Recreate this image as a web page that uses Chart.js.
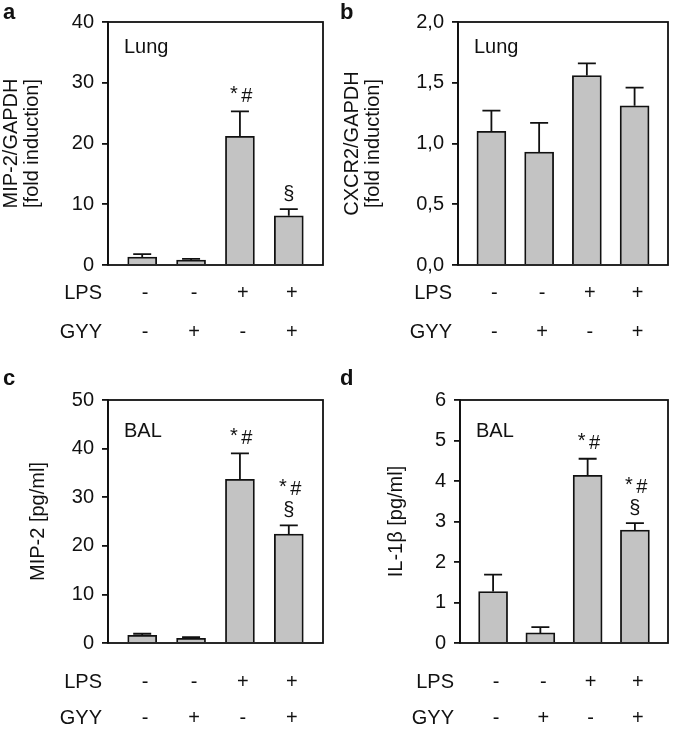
<!DOCTYPE html>
<html>
<head>
<meta charset="utf-8">
<script src="https://cdn.jsdelivr.net/npm/chart.js@4"></script>
<style>
body { margin: 0; background: #fff; width: 675px; height: 732px; position: relative; overflow: hidden; }
.panel { position: absolute; }
</style>
</head>
<body>
<div class="panel" style="left:0;top:0"><canvas id="chartA" width="337" height="366"></canvas></div>
<div class="panel" style="left:337px;top:0"><canvas id="chartB" width="338" height="366"></canvas></div>
<div class="panel" style="left:0;top:366px"><canvas id="chartC" width="337" height="366"></canvas></div>
<div class="panel" style="left:337px;top:366px"><canvas id="chartD" width="338" height="366"></canvas></div>
<script>
const groups = [1, 2, 3, 4];
const lpsRow = ["-", "-", "+", "+"];
const gyyRow = ["-", "+", "-", "+"];

// a: MIP-2 mRNA, lung
const mipLung = [1.3, 0.8, 21.2, 8.1];
const mipLungSd = [0.5, 0.2, 4.1, 1.1];
const mipLungMarks = [[], [], ["*#"], ["§"]];

// b: CXCR2 mRNA, lung
const cxcrLung = [1.10, 0.93, 1.56, 1.31];
const cxcrLungSd = [0.17, 0.24, 0.10, 0.15];
const cxcrLungMarks = [[], [], [], []];

// c: MIP-2 protein, BAL
const mipBal = [1.6, 0.96, 33.7, 22.4];
const mipBalSd = [0.3, 0.25, 5.3, 1.8];
const mipBalMarks = [[], [], ["*#"], ["§", "*#"]];

// d: IL-1b protein, BAL
const ilBal = [1.27, 0.25, 4.14, 2.79];
const ilBalSd = [0.42, 0.14, 0.41, 0.17];
const ilBalMarks = [[], [], ["*#"], ["§", "*#"]];

const FONT = '"Liberation Sans", Arial, sans-serif';
const INK = '#111';
const FS = 20;
const LW = 1.8;

const decor = {
	id: 'decor',
	afterDatasetsDraw(chart) {
		const p = chart.options.plugins.decor;
		const ctx = chart.ctx;
		const area = chart.chartArea;
		const xs = chart.scales.x, ys = chart.scales.y;
		ctx.save();
		ctx.strokeStyle = INK;
		ctx.fillStyle = INK;
		ctx.lineWidth = LW;

		// error bars + significance marks
		groups.forEach((g, i) => {
			const x = xs.getPixelForValue(g);
			const yBar = ys.getPixelForValue(p.values[i]);
			const yTop = ys.getPixelForValue(p.values[i] + p.sd[i]);
			ctx.beginPath();
			ctx.moveTo(x, yBar);
			ctx.lineTo(x, yTop);
			ctx.moveTo(x - 9, yTop);
			ctx.lineTo(x + 9, yTop);
			ctx.stroke();
			ctx.textAlign = 'center';
			ctx.textBaseline = 'middle';
			p.marks[i].forEach((m, j) => {
				const y = yTop - 15 - j * 21;
				ctx.font = `${FS}px ${FONT}`;
				if (m === "*#") {
					ctx.fillText("*", x - 6, y - 2);
					ctx.fillText("#", x + 7, y);
				} else {
					ctx.fillText(m, x, y);
				}
			});
		});

		// frame
		ctx.strokeRect(area.left, area.top, area.right - area.left, area.bottom - area.top);

		// inside label
		ctx.font = `${FS}px ${FONT}`;
		ctx.textAlign = 'left';
		ctx.textBaseline = 'top';
		ctx.fillText(p.label, area.left + 16, area.top + p.labelDy);

		// treatment rows
		ctx.textBaseline = 'middle';
		[["LPS", lpsRow], ["GYY", gyyRow]].forEach(([name, row], r) => {
			const y = area.bottom + p.rowDy[r];
			ctx.textAlign = 'right';
			ctx.fillText(name, area.left - 6, y);
			ctx.textAlign = 'center';
			row.forEach((s, i) => ctx.fillText(s, xs.getPixelForValue(groups[i]) + 3, y));
		});

		// y title (rotated)
		ctx.textAlign = 'center';
		ctx.textBaseline = 'middle';
		const midY = (area.top + area.bottom) / 2;
		p.title.forEach((t, k) => {
			ctx.save();
			ctx.translate(p.titleX[k], midY);
			ctx.rotate(-Math.PI / 2);
			ctx.fillText(t, 0, 0);
			ctx.restore();
		});

		// panel letter
		ctx.font = `bold 22px ${FONT}`;
		ctx.textAlign = 'left';
		ctx.textBaseline = 'top';
		ctx.fillText(p.letter, 3, 2);
		ctx.restore();
	}
};

function makePanel(id, cfg) {
	const canvas = document.getElementById(id);
	const W = canvas.width, H = canvas.height;
	return new Chart(canvas, {
		type: 'bar',
		data: {
			datasets: [{
				data: groups.map((g, i) => ({x: g, y: cfg.values[i]})),
				backgroundColor: '#c3c3c3',
				borderColor: INK,
				borderWidth: LW,
				barThickness: 29
			}]
		},
		options: {
			responsive: false,
			animation: false,
			layout: {padding: {left: 0, top: cfg.area[2], right: W - cfg.area[1], bottom: H - cfg.area[3]}},
			plugins: {
				legend: {display: false},
				tooltip: {enabled: false},
				decor: cfg
			},
			scales: {
				x: {type: 'linear', min: 0.3, max: 4.7, offset: false, display: false},
				y: {
					min: 0,
					max: cfg.yMax,
					ticks: {
						stepSize: cfg.step,
						color: INK,
						padding: 8,
						font: {family: FONT, size: FS},
						callback: v => cfg.comma ? v.toFixed(1).replace('.', ',') : v
					},
					grid: {drawOnChartArea: false, tickLength: 6, color: INK, lineWidth: LW},
					border: {color: INK, width: LW},
					afterFit: s => { s.width = cfg.area[0]; }
				}
			}
		},
		plugins: [decor]
	});
}

// area: [left, right, top, bottom] in canvas pixels
makePanel('chartA', {
	letter: 'a', label: 'Lung', labelDy: 15, values: mipLung, sd: mipLungSd, marks: mipLungMarks,
	yMax: 40, step: 10, area: [108, 323, 22, 265], rowDy: [28, 67],
	title: ['MIP-2/GAPDH', '[fold induction]'], titleX: [11, 32]
});
makePanel('chartB', {
	letter: 'b', label: 'Lung', labelDy: 15, values: cxcrLung, sd: cxcrLungSd, marks: cxcrLungMarks,
	yMax: 2, step: 0.5, comma: true, area: [121, 331, 22, 265], rowDy: [28, 67],
	title: ['CXCR2/GAPDH', '[fold induction]'], titleX: [15, 36]
});
makePanel('chartC', {
	letter: 'c', label: 'BAL', labelDy: 21, values: mipBal, sd: mipBalSd, marks: mipBalMarks,
	yMax: 50, step: 10, area: [108, 323, 34, 277], rowDy: [39, 75],
	title: ['MIP-2 [pg/ml]'], titleX: [38]
});
makePanel('chartD', {
	letter: 'd', label: 'BAL', labelDy: 21, values: ilBal, sd: ilBalSd, marks: ilBalMarks,
	yMax: 6, step: 1, area: [123, 331, 34, 277], rowDy: [39, 75],
	title: ['IL-1β [pg/ml]'], titleX: [59]
});
</script>
</body>
</html>
